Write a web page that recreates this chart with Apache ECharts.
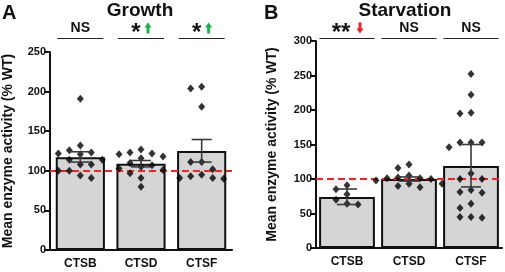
<!DOCTYPE html>
<html>
<head>
<meta charset="utf-8">
<script src="https://cdn.jsdelivr.net/npm/echarts@6/dist/echarts.min.js"></script>
<style>
  html, body { margin: 0; padding: 0; background: #fff; }
  #chart { width: 505px; height: 272px; }
</style>
</head>
<body>
<div id="chart"></div>
<script>
const categories = ['CTSB', 'CTSD', 'CTSF'];

// panel A: growth
const growthMean = [117, 109, 125];
const growthErrLow = [111, 105, 111];
const growthErrHigh = [124, 113, 139.5];
const growthCTSB = [191, 132, 126, 123, 122, 121, 114, 114, 113, 108, 108, 100, 100, 94, 91];
const growthCTSD = [127, 123, 122, 121, 118, 116, 110, 107, 105, 103, 101, 97, 91, 80];
const growthCTSF = [206, 204, 181, 111, 111, 102, 95, 93, 91, 91, 90];
const growthSig = ['NS', '*', '*'];
const growthArrow = ['', 'up', 'up'];

// panel B: starvation
const starvMean = [74, 100, 119];
const starvErrLow = [63, 97, 88.5];
const starvErrHigh = [85.5, 103, 150];
const starvCTSB = [91, 85, 78, 70, 64, 63];
const starvCTSD = [121, 116, 105, 102, 101, 101, 100, 98, 93, 93, 90, 88];
const starvCTSF = [252, 222, 196, 195, 153, 153, 153, 146, 108, 100, 100, 84, 81, 80, 64, 58, 45, 45, 44];
const starvSig = ['**', 'NS', 'NS'];
const starvArrow = ['down', '', ''];

const yMaxA = 250, yMaxB = 300;
const gridA = { left: 50, top: 52, width: 182, height: 198 };
const gridB = { left: 316, top: 41, width: 186, height: 207 };

const FONT = '"Liberation Sans", Arial, sans-serif';
const GREEN = '#1fb04a';
const RED = '#e8232a';

// simple beeswarm so that the diamonds do not overlap (offsets in px)
function swarm(values, pxPerUnit, step, minDy) {
  const order = values.map((v, i) => i).sort((a, b) => values[b] - values[a]);
  const placed = [];
  const offs = new Array(values.length);
  order.forEach(i => {
    const y = values[i] * pxPerUnit;
    const cands = [0];
    for (let m = 1; m < 8; m++) { cands.push(-m * step, m * step); }
    for (const c of cands) {
      const hit = placed.some(p => Math.abs(p.x - c) < step * 0.95 && Math.abs(p.y - y) < minDy);
      if (!hit) { placed.push({ x: c, y: y }); offs[i] = c; break; }
    }
  });
  return offs;
}

function scatterData(groups, grid, yMax) {
  const k = grid.height / yMax;
  const catW = grid.width / categories.length;
  const out = [];
  groups.forEach((vals, ci) => {
    const offs = swarm(vals, k, 11, 8);
    vals.forEach((v, j) => out.push([ci + offs[j] / catW, v]));
  });
  return out;
}

function errData(lo, hi) {
  return categories.map((c, i) => [i, lo[i], hi[i]]);
}

function renderErr(params, api) {
  const x = api.value(0);
  const top = api.coord([x, api.value(2)]);
  const bot = api.coord([x, api.value(1)]);
  const cap = 10;
  const st = { stroke: '#3a3a3a', lineWidth: 1.6 };
  return {
    type: 'group',
    children: [
      { type: 'line', shape: { x1: top[0], y1: top[1], x2: bot[0], y2: bot[1] }, style: st },
      { type: 'line', shape: { x1: top[0] - cap, y1: top[1], x2: top[0] + cap, y2: top[1] }, style: st },
      { type: 'line', shape: { x1: bot[0] - cap, y1: bot[1], x2: bot[0] + cap, y2: bot[1] }, style: st }
    ]
  };
}

function arrowShape(cx, cy, dir) {
  const s = dir === 'up' ? -1 : 1;
  const h = 5.5;
  return [
    [cx, cy + s * h],
    [cx - 3.6, cy + s * 0.5],
    [cx - 1.5, cy + s * 0.5],
    [cx - 1.5, cy - s * h],
    [cx + 1.5, cy - s * h],
    [cx + 1.5, cy + s * 0.5],
    [cx + 3.6, cy + s * 0.5]
  ];
}

function sigGraphics(grid, sig, arrows, half, lineY) {
  const catW = grid.width / categories.length;
  const els = [];
  sig.forEach((lab, i) => {
    const cx = grid.left + catW * (i + 0.5);
    els.push({
      type: 'line', shape: { x1: cx - half, y1: lineY, x2: cx + half, y2: lineY },
      style: { stroke: '#222', lineWidth: 1.2 }
    });
    if (lab === 'NS') {
      els.push({
        type: 'text', x: cx, y: 28,
        style: { text: 'NS', font: 'bold 14px ' + FONT, fill: '#111', align: 'center', verticalAlign: 'middle' }
      });
    } else {
      const tx = arrows[i] === 'down' ? cx - 6 : cx - 5;
      els.push({
        type: 'text', x: tx, y: 33,
        style: { text: lab, font: 'bold 24px ' + FONT, fill: '#111', align: 'center', verticalAlign: 'middle' }
      });
      const ax = arrows[i] === 'down' ? cx + 13 : cx + 7;
      els.push({
        type: 'polygon', shape: { points: arrowShape(ax, 28, arrows[i]) },
        style: { fill: arrows[i] === 'up' ? GREEN : RED }
      });
    }
  });
  return els;
}

function yAxisCfg(gi, max, gap) {
  return {
    type: 'value', gridIndex: gi, min: 0, max: max, interval: 50,
    name: 'Mean enzyme activity (% WT)', nameLocation: 'middle', nameGap: gap,
    nameTextStyle: { fontFamily: FONT, fontWeight: 'bold', fontSize: 14, color: '#111' },
    axisLine: { show: true, onZero: false, lineStyle: { color: '#111', width: 2 } },
    axisTick: { show: true, length: 6, lineStyle: { color: '#111', width: 2 } },
    axisLabel: { margin: 4, fontFamily: FONT, fontWeight: 'bold', fontSize: 11, color: '#111' },
    splitLine: { show: false }
  };
}

function xAxisCfg(gi) {
  return {
    type: 'category', gridIndex: gi, data: categories,
    axisLine: { onZero: false, lineStyle: { color: '#111', width: 2 } },
    axisTick: { alignWithLabel: true, length: 5, lineStyle: { color: '#111', width: 2 } },
    axisLabel: { margin: 8, fontFamily: FONT, fontWeight: 'bold', fontSize: 12, color: '#111' }
  };
}

function barSeries(xi, yi, data, width) {
  return {
    type: 'bar', xAxisIndex: xi, yAxisIndex: yi, data: data, barWidth: width, z: 1,
    itemStyle: { color: '#d5d5d5', borderColor: '#111', borderWidth: 2 },
    markLine: {
      silent: true, symbol: 'none', label: { show: false }, z: 2,
      lineStyle: { color: '#ff1f1f', type: [7, 4], width: 2 },
      data: [{ yAxis: 100 }]
    }
  };
}

function dotSeries(xi, yi, data) {
  return {
    type: 'scatter', xAxisIndex: xi, yAxisIndex: yi, data: data, z: 3,
    symbol: 'diamond', symbolSize: [7, 8], itemStyle: { color: '#000' }
  };
}

function errSeries(xi, yi, data) {
  return {
    type: 'custom', xAxisIndex: xi, yAxisIndex: yi, data: data, z: 4,
    encode: { x: 0, y: [1, 2] },
    renderItem: renderErr
  };
}

const chart = echarts.init(document.getElementById('chart'));

const option = {
  animation: false,
  grid: [gridA, gridB],
  xAxis: [
    xAxisCfg(0), xAxisCfg(1),
    { type: 'value', gridIndex: 0, min: -0.5, max: 2.5, show: false },
    { type: 'value', gridIndex: 1, min: -0.5, max: 2.5, show: false }
  ],
  yAxis: [yAxisCfg(0, yMaxA, 35), yAxisCfg(1, yMaxB, 37)],
  series: [
    barSeries(0, 0, growthMean, '81%'),
    dotSeries(2, 0, scatterData([growthCTSB, growthCTSD, growthCTSF], gridA, yMaxA)),
    errSeries(2, 0, errData(growthErrLow, growthErrHigh)),
    barSeries(1, 1, starvMean, '90%'),
    dotSeries(3, 1, scatterData([starvCTSB, starvCTSD, starvCTSF], gridB, yMaxB)),
    errSeries(3, 1, errData(starvErrLow, starvErrHigh))
  ],
  graphic: [
    { type: 'text', x: 2, y: 3, style: { text: 'A', font: 'bold 20px ' + FONT, fill: '#111' } },
    { type: 'text', x: 264, y: 3, style: { text: 'B', font: 'bold 20px ' + FONT, fill: '#111' } },
    { type: 'text', x: 140, y: 11, style: { text: 'Growth', font: 'bold 19px ' + FONT, fill: '#111', align: 'center', verticalAlign: 'middle' } },
    { type: 'text', x: 405, y: 11, style: { text: 'Starvation', font: 'bold 19px ' + FONT, fill: '#111', align: 'center', verticalAlign: 'middle' } }
  ]
    .concat(sigGraphics(gridA, growthSig, growthArrow, 23, 38.5))
    .concat(sigGraphics(gridB, starvSig, starvArrow, 27.5, 38.5))
};

chart.setOption(option);
</script>
</body>
</html>
